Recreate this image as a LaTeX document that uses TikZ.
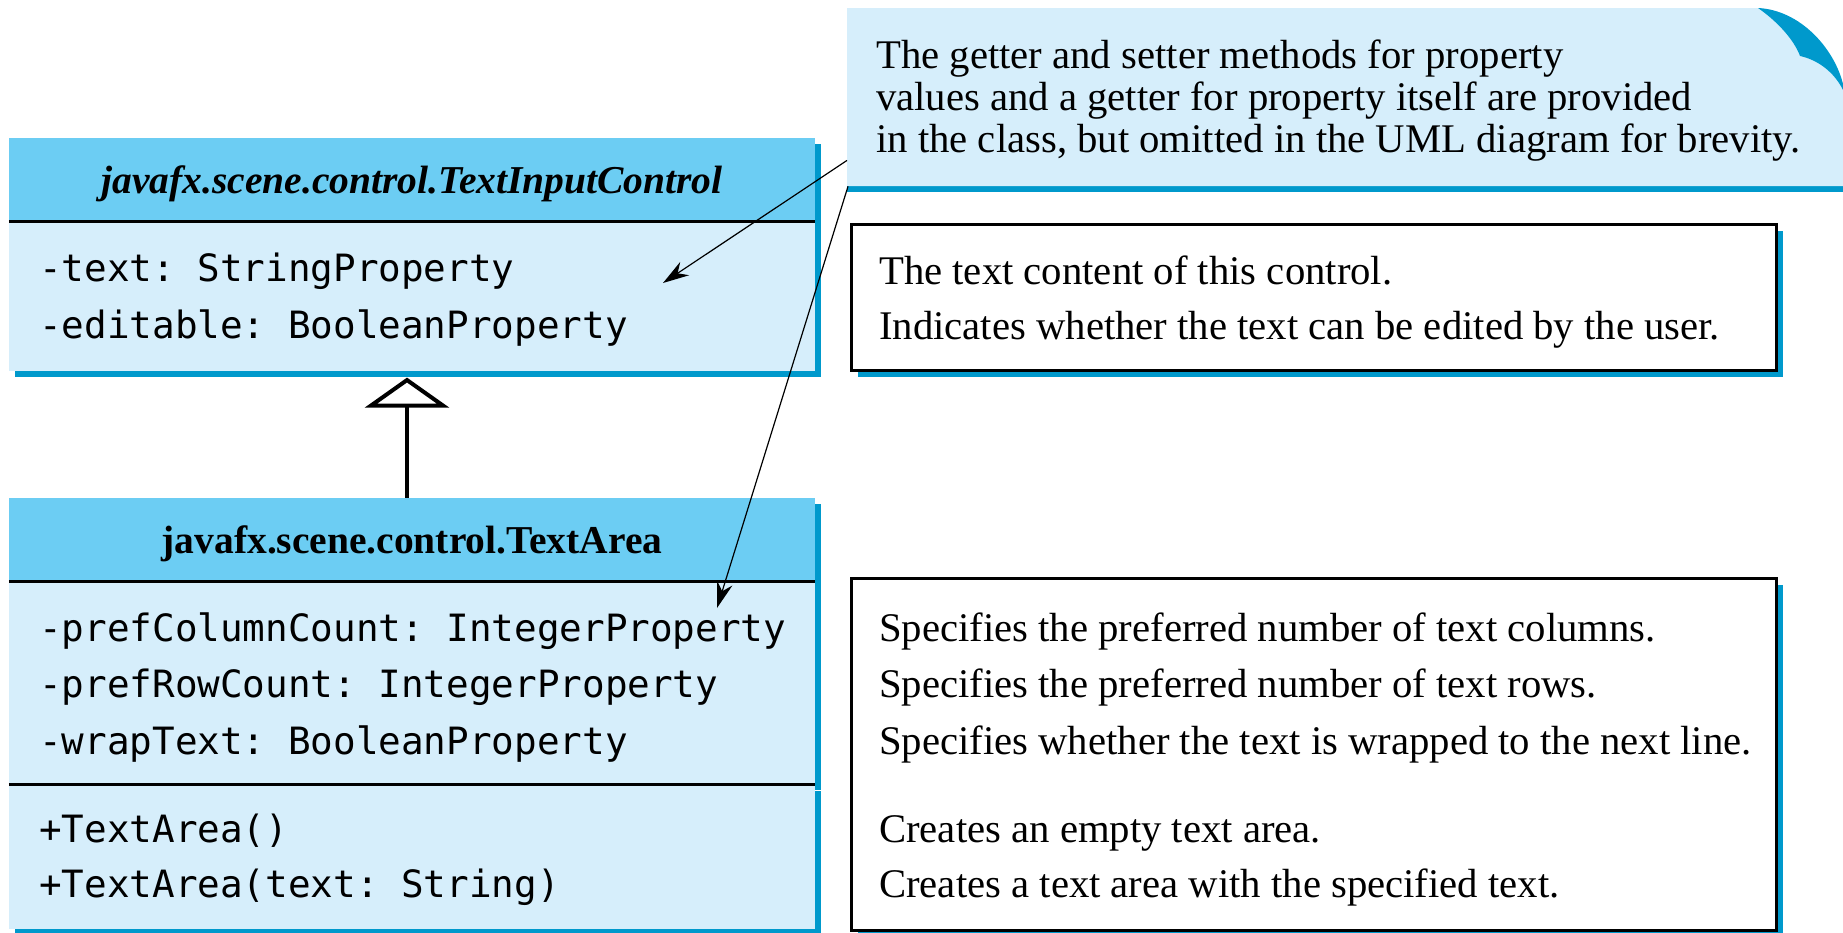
\documentclass[tikz,border=0pt]{standalone}
\usepackage{fontspec}
\setmainfont{Liberation Serif}
\setmonofont{DejaVu Sans Mono}
\usetikzlibrary{arrows.meta,positioning,shadows}

\definecolor{hdrblue}{RGB}{108,205,243}
\definecolor{bodyblue}{RGB}{214,238,251}
\definecolor{shadeblue}{RGB}{0,153,204}

\tikzset{
  blueshadow/.style={drop shadow={shadow xshift=6pt,shadow yshift=-6pt,fill=shadeblue,opacity=1}},
  hdr/.style={fill=hdrblue,blueshadow,minimum width=806pt,inner sep=0pt,text height=36pt,text depth=9pt,font=\fontsize{39.5}{40}\selectfont\bfseries},
  part/.style={fill=bodyblue,blueshadow,minimum width=806pt,inner sep=0pt},
  descbox/.style={draw,line width=3pt,fill=white,blueshadow,minimum width=925pt,inner sep=0pt,anchor=north west},
  member/.style={anchor=base west,inner sep=0pt,font=\fontsize{37.6}{40}\ttfamily},
  desc/.style={anchor=base west,inner sep=0pt,font=\fontsize{40.7}{42}\selectfont},
  divider/.style={line width=3pt},
  notearrow/.style={line width=1.2pt,-{Stealth[length=26pt,width=16pt]}},
  inherit/.style={line width=4pt,-{Triangle[open,length=30pt,width=84pt,line width=4pt]}}
}

\begin{document}
\begin{tikzpicture}[x=1pt,y=-1pt]
  \useasboundingbox (0,0) rectangle (1843,932);

  % javafx.scene.control.TextInputControl
  \node[hdr,minimum height=83pt] (tichead) at (412,179.5) {\itshape javafx.scene.control.TextInputControl};
  \node[part,minimum height=150pt,below=0pt of tichead] (ticattr) {};
  \draw[divider] (tichead.south west) -- (tichead.south east);
  \node[member] (tictext) at (39,281) {-text: StringProperty};
  \node[member] (ticedit) at (39,338) {-editable: BooleanProperty};

  % javafx.scene.control.TextArea
  \node[hdr,minimum height=83pt] (tahead) at (412,539.5) {javafx.scene.control.TextArea};
  \node[part,minimum height=203pt,below=0pt of tahead] (taattr) {};
  \node[part,minimum height=144pt,below=0pt of taattr] (tactor) {};
  \draw[divider] (tahead.south west) -- (tahead.south east);
  \draw[divider] (taattr.south west) -- (taattr.south east);
  \node[member] (tacol) at (39,641) {-prefColumnCount: IntegerProperty};
  \node[member] (tarow) at (39,697) {-prefRowCount: IntegerProperty};
  \node[member] (tawrap) at (39,754) {-wrapText: BooleanProperty};
  \node[member] (tanew) at (39,842) {+TextArea()};
  \node[member] (tanewtext) at (39,897) {+TextArea(text: String)};

  % inheritance
  \draw[inherit] ([xshift=-5pt]tahead.north) -- ([xshift=-5pt,yshift=-6pt]ticattr.south);

  % note with folded corner
  \node[minimum width=996pt,minimum height=178pt,inner sep=0pt,anchor=north west] (note) at (847,8) {};
  \fill[shadeblue] (note.south west) rectangle ([yshift=-6pt]note.south east);
  \fill[bodyblue] (847,8) -- (1758,8) .. controls (1778,22) and (1794,40) .. (1800,56)
        .. controls (1818,60) and (1834,72) .. (1843,90) -- (1843,186) -- (847,186) -- cycle;
  \fill[shadeblue] (1758,8) .. controls (1800,10) and (1834,48) .. (1843,84) -- (1843,90)
        .. controls (1834,72) and (1818,60) .. (1800,56)
        .. controls (1794,40) and (1778,22) .. (1758,8) -- cycle;
  \node[desc] (note1) at (876,68) {The getter and setter methods for property};
  \node[desc] (note2) at (876,110) {values and a getter for property itself are provided};
  \node[desc] (note3) at (876,152) {in the class, but omitted in the UML diagram for brevity.};

  % descriptions
  \node[descbox,minimum height=146pt] (desctic) at (850,223) {};
  \node[desc] at (879,284) {The text content of this control.};
  \node[desc] at (879,339) {Indicates whether the text can be edited by the user.};

  \node[descbox,minimum height=352pt] (descta) at (850,577) {};
  \node[desc] at (879,641) {Specifies the preferred number of text columns.};
  \node[desc] at (879,697) {Specifies the preferred number of text rows.};
  \node[desc] at (879,754) {Specifies whether the text is wrapped to the next line.};
  \node[desc] at (879,842) {Creates an empty text area.};
  \node[desc] at (879,897) {Creates a text area with the specified text.};

  % pointers from the note
  \coordinate (textend) at (663,283);
  \coordinate (colend) at (717,608);
  \draw[notearrow] ([yshift=26pt]note.south west) -- (textend);
  \draw[notearrow] ([xshift=1pt]note.south west) -- (colend);
\end{tikzpicture}
\end{document}
